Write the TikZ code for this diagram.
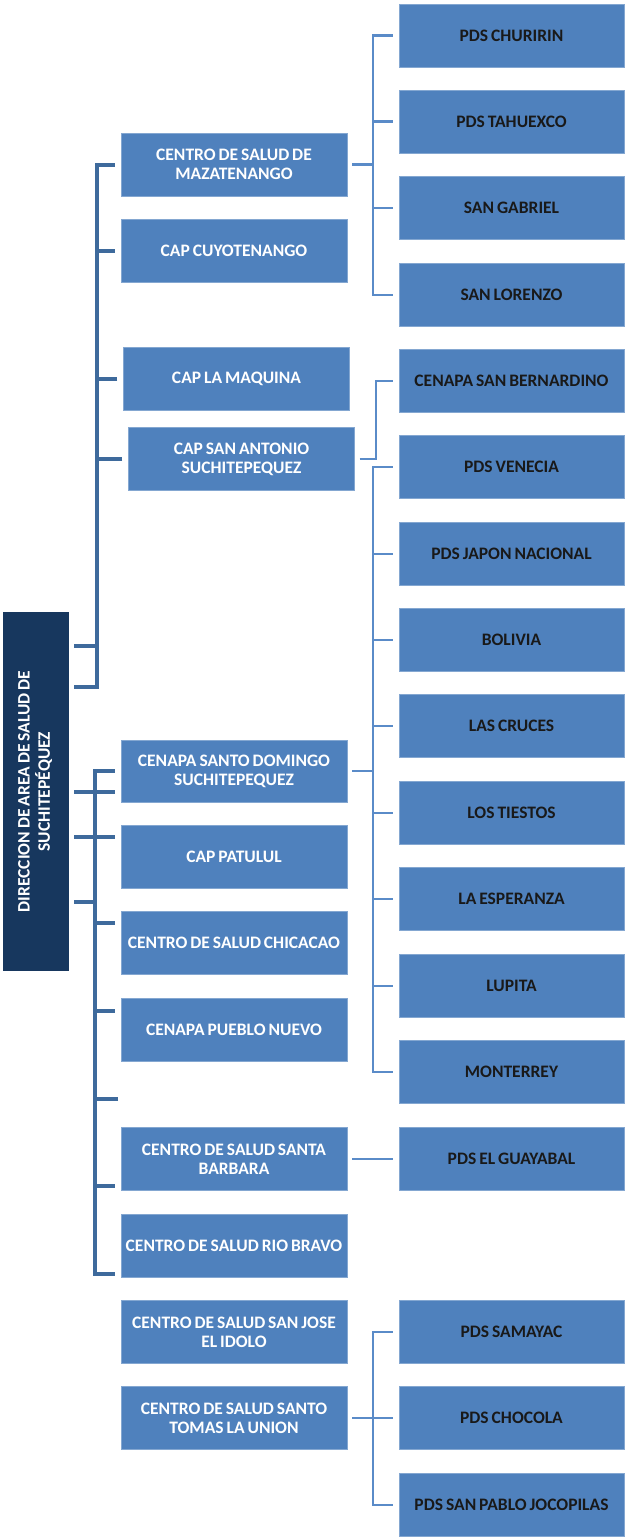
\documentclass[tikz,border=0pt]{standalone}
\usepackage{fontspec}
\setmainfont{Carlito}[WordSpace=0.75]
\definecolor{boxblue}{HTML}{4F81BD}
\definecolor{rootblue}{HTML}{17375E}
\definecolor{spineblue}{HTML}{3E6A9C}
\definecolor{linkblue}{HTML}{5A8BC8}

\begin{document}
\begin{tikzpicture}[x=1pt, y=-1pt]

\tikzstyle{every node} = [rectangle, align=center, font=\fontsize{17.5}{19}\selectfont\bfseries]
\tikzstyle{unit} = [fill=boxblue, draw=boxblue!70!white, minimum width=226pt, minimum height=63pt, text=white, inner sep=0pt]
\tikzstyle{post} = [unit, minimum width=225pt, text=black!90]
\tikzstyle{spine} = [draw=spineblue, line width=4pt]
\tikzstyle{link} = [draw=linkblue, line width=2.5pt]

\useasboundingbox (0,0) rectangle (624,1537);

\node[fill=rootblue, minimum width=66pt, minimum height=359pt, text=white, inner sep=0pt] (root) at (36,791.5)
  {\rotatebox{90}{\begin{tabular}{@{}c@{}}DIRECCION DE AREA DE SALUD DE\\SUCHITEP\'EQUEZ\end{tabular}}};

\node[unit] (maz) at (234,164.5) {CENTRO DE SALUD DE\\MAZATENANGO};
\node[unit] (cuy) at (234,251) {CAP CUYOTENANGO};
\node[unit] (maq) at (236.5,379) {CAP LA MAQUINA};
\node[unit] (sant) at (241.5,459) {CAP SAN ANTONIO\\SUCHITEPEQUEZ};

\node[unit, minimum height=62pt] (sdom) at (234,771) {CENAPA SANTO DOMINGO\\SUCHITEPEQUEZ};
\node[unit] (pat) at (234,856.5) {CAP PATULUL};
\node[unit] (chi) at (234,943) {CENTRO DE SALUD CHICACAO};
\node[unit] (pnu) at (234,1030) {CENAPA PUEBLO NUEVO};
\node[unit] (sbar) at (234,1159) {CENTRO DE SALUD SANTA\\BARBARA};
\node[unit] (rbr) at (234,1245.5) {CENTRO DE SALUD RIO BRAVO};
\node[unit] (sjo) at (234,1332) {CENTRO DE SALUD SAN JOSE\\EL IDOLO};
\node[unit] (sto) at (234,1418) {CENTRO DE SALUD SANTO\\TOMAS LA UNION};

\node[post] (chu) at (511.5,35.5) {PDS CHURIRIN};
\node[post] (tah) at (511.5,121.5) {PDS TAHUEXCO};
\node[post] (sga) at (511.5,208) {SAN GABRIEL};
\node[post] (slo) at (511.5,295) {SAN LORENZO};
\node[post] (sbe) at (511.5,381) {CENAPA SAN BERNARDINO};
\node[post] (ven) at (511.5,467) {PDS VENECIA};
\node[post] (jap) at (511.5,554) {PDS JAPON NACIONAL};
\node[post] (bol) at (511.5,640) {BOLIVIA};
\node[post] (cru) at (511.5,726) {LAS CRUCES};
\node[post] (tie) at (511.5,813) {LOS TIESTOS};
\node[post] (esp) at (511.5,899) {LA ESPERANZA};
\node[post] (lup) at (511.5,986) {LUPITA};
\node[post] (mon) at (511.5,1072) {MONTERREY};
\node[post] (gua) at (511.5,1159) {PDS EL GUAYABAL};
\node[post] (sam) at (511.5,1332) {PDS SAMAYAC};
\node[post] (cho) at (511.5,1418) {PDS CHOCOLA};
\node[post] (spa) at (511.5,1505) {PDS SAN PABLO JOCOPILAS};

\coordinate (ub) at (97,687);
\coordinate (ue) at (74,687);
\coordinate (r1) at (74,646);
\coordinate (lb) at (95,1274);
\coordinate (r2) at (74,792);
\coordinate (r3) at (74,837);
\coordinate (r4) at (74,902);
\coordinate (l4) at (95,923);
\coordinate (l5) at (95,1011);
\coordinate (l6) at (95,1186);
\coordinate (lx) at (118,1099);
\coordinate (ra) at (373,0);
\coordinate (rb) at (376,420);

\draw[spine, shorten <=6pt] (maz.west) -| (ub) -- (ue);
\foreach \n in {cuy,maq,sant}
  \draw[spine, shorten <=6pt] (\n.west) -- (\n.west -| ub);
\draw[spine] (r1) -- (r1 -| ub);

\draw[spine, shorten <=6pt, shorten >=6pt] (sdom.west) -| (lb) -- (rbr.west |- lb);
\draw[spine, shorten >=6pt] (r2) -- (sdom.west |- r2);
\draw[spine, shorten >=6pt] (r3) -- (pat.west |- r3);
\draw[spine] (r4) -- (r4 -| lb);
\draw[spine, shorten >=6pt] (l4) -- (chi.west |- l4);
\draw[spine, shorten >=6pt] (l5) -- (pnu.west |- l5);
\draw[spine, shorten >=6pt] (l6) -- (sbar.west |- l6);
\draw[spine] (lx) -- (lx -| lb);

\draw[link, shorten <=5pt] (maz.east) -- (maz.east -| ra);
\draw[link, shorten <=6pt, shorten >=6pt] (chu.west) -| (slo.west -| ra) -- (slo.west);
\foreach \n in {tah,sga}
  \draw[link, shorten >=6pt] (\n.west -| ra) -- (\n.west);

\draw[link, shorten <=5pt, shorten >=6pt] (sant.east) -| (rb) |- (sbe.west);

\draw[link, shorten <=5pt] (sdom.east) -- (sdom.east -| ra);
\draw[link, shorten <=6pt, shorten >=6pt] (ven.west) -| (mon.west -| ra) -- (mon.west);
\foreach \n in {jap,bol,cru,tie,esp,lup}
  \draw[link, shorten >=6pt] (\n.west -| ra) -- (\n.west);

\draw[link, shorten <=5pt, shorten >=6pt] (sbar.east) -- (gua.west);

\draw[link, shorten <=5pt, shorten >=6pt] (sto.east) -- (cho.west);
\draw[link, shorten <=6pt, shorten >=6pt] (sam.west) -| (spa.west -| ra) -- (spa.west);

\end{tikzpicture}
\end{document}
